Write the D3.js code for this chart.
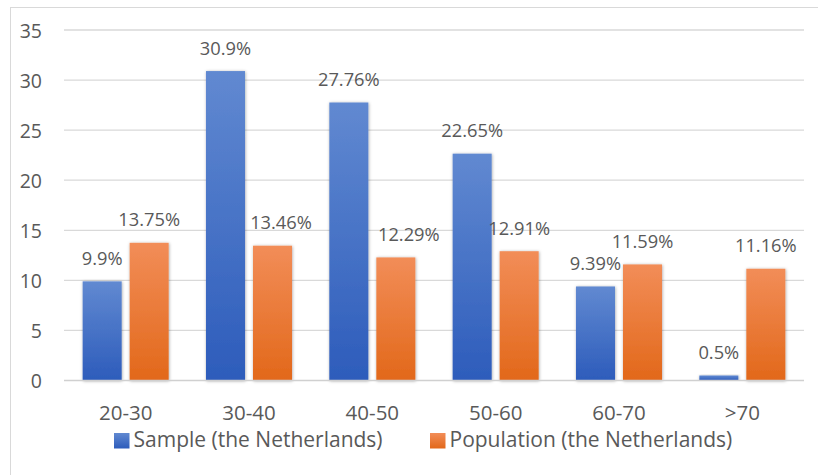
<!DOCTYPE html>
<html>
<head>
<meta charset="utf-8">
<script src="https://cdn.jsdelivr.net/npm/d3@7"></script>
<style>
  html, body { margin: 0; padding: 0; background: #fff; }
  svg { display: block; }
  text { font-family: "Open Sans", "Noto Sans", sans-serif; fill: #595959; }
</style>
</head>
<body>
<svg id="chart" width="818" height="475"></svg>
<script>
// Age groups and the share (%) of each group
const categories = ["20-30", "30-40", "40-50", "50-60", "60-70", ">70"];
const seriesNames = ["Sample (the Netherlands)", "Population (the Netherlands)"];
const sampleValues = [9.9, 30.9, 27.76, 22.65, 9.39, 0.5];
const populationValues = [13.75, 13.46, 12.29, 12.91, 11.59, 11.16];
const yTicks = [0, 5, 10, 15, 20, 25, 30, 35];

// Small sideways nudges that keep population labels clear of neighbouring bars
const populationLabelShift = { "30-40": 8.5, "40-50": 13 };

const svg = d3.select("#chart");
const plot = { left: 64, right: 804, top: 30, bottom: 380.5 };

// Chart frame
svg.append("rect")
  .attr("x", 10.5).attr("y", 7.5)
  .attr("width", 830).attr("height", 500)
  .attr("fill", "#fff")
  .attr("stroke", "#d9d9d9").attr("stroke-width", 1);

const defs = svg.append("defs");
const gradients = [
  { id: "gradSample", top: "#6189d1", bottom: "#2d5cbb" },
  { id: "gradPopulation", top: "#f28d58", bottom: "#e2681a" }
];
gradients.forEach(g => {
  const lg = defs.append("linearGradient")
    .attr("id", g.id).attr("x1", 0).attr("y1", 0).attr("x2", 0).attr("y2", 1);
  lg.append("stop").attr("offset", "0%").attr("stop-color", g.top);
  lg.append("stop").attr("offset", "100%").attr("stop-color", g.bottom);
});
const shadow = defs.append("filter").attr("id", "barShadow")
  .attr("x", "-30%").attr("y", "-10%").attr("width", "160%").attr("height", "120%");
shadow.append("feDropShadow")
  .attr("dx", 0.5).attr("dy", 0.5).attr("stdDeviation", 1.6)
  .attr("flood-color", "#000").attr("flood-opacity", 0.35);

const x0 = d3.scaleBand().domain(categories).range([plot.left, plot.right]);
const x1 = d3.scaleBand().domain(seriesNames).range([0, x0.bandwidth()])
  .paddingInner(0.17).paddingOuter(0.397);
const y = d3.scaleLinear().domain([0, 35]).range([plot.bottom, plot.top]);

// Horizontal gridlines
svg.append("g")
  .selectAll("line")
  .data(yTicks.filter(t => t > 0))
  .join("line")
  .attr("x1", plot.left).attr("x2", plot.right)
  .attr("y1", d => y(d)).attr("y2", d => y(d))
  .attr("stroke", "#d9d9d9").attr("stroke-width", 1.3);

// Y axis labels
const yAxis = d3.axisLeft(y).tickValues(yTicks).tickSize(0).tickPadding(0);
const yg = svg.append("g").attr("transform", "translate(42,0)").call(yAxis);
yg.select(".domain").remove();
yg.selectAll("text")
  .style("font-family", "'Open Sans', sans-serif")
  .attr("font-size", 19.5).attr("fill", "#595959").attr("dy", "0.36em");

// Bars
const rows = categories.map((c, i) => ({
  category: c,
  values: [
    { series: seriesNames[0], value: sampleValues[i], fill: "url(#gradSample)" },
    { series: seriesNames[1], value: populationValues[i], fill: "url(#gradPopulation)" }
  ]
}));

const groups = svg.append("g")
  .selectAll("g")
  .data(rows)
  .join("g")
  .attr("transform", d => `translate(${x0(d.category)},0)`);

groups.selectAll("rect")
  .data(d => d.values)
  .join("rect")
  .attr("x", d => x1(d.series))
  .attr("width", x1.bandwidth())
  .attr("y", d => y(d.value))
  .attr("height", d => y(0) - y(d.value))
  .attr("fill", d => d.fill)
  .attr("filter", "url(#barShadow)");

// Baseline axis
svg.append("line")
  .attr("x1", plot.left).attr("x2", plot.right)
  .attr("y1", y(0)).attr("y2", y(0))
  .attr("stroke", "#d0d0d0").attr("stroke-width", 1.6);

// Value labels
groups.selectAll("text.value")
  .data(d => d.values.map(v => ({ ...v, category: d.category })))
  .join("text")
  .attr("class", "value")
  .attr("x", d => x1(d.series) + x1.bandwidth() / 2 +
    (d.series === seriesNames[1] ? (populationLabelShift[d.category] || 0) : 0))
  .attr("y", d => y(d.value) - 16.5)
  .attr("text-anchor", "middle")
  .attr("font-size", 18.3)
  .attr("fill", "#404040")
  .text(d => d.value + "%");

// Category axis labels
const xAxis = d3.axisBottom(x0).tickSize(0).tickPadding(0);
const xg = svg.append("g").call(xAxis);
xg.select(".domain").remove();
xg.selectAll(".tick text")
  .style("font-family", "'Open Sans', sans-serif")
  .attr("font-size", 20.5).attr("fill", "#595959")
  .attr("y", 420).attr("dy", 0);

// Legend
const legendItems = [
  { name: seriesNames[0], fill: "url(#gradSample)", x: 114 },
  { name: seriesNames[1], fill: "url(#gradPopulation)", x: 430 }
];
const legend = svg.append("g")
  .selectAll("g")
  .data(legendItems)
  .join("g")
  .attr("transform", d => `translate(${d.x},433)`);
legend.append("rect")
  .attr("width", 15.5).attr("height", 15.5)
  .attr("fill", d => d.fill);
legend.append("text")
  .attr("x", 19.5).attr("y", 14)
  .attr("font-size", 21)
  .attr("fill", "#595959")
  .text(d => d.name);
</script>
</body>
</html>
